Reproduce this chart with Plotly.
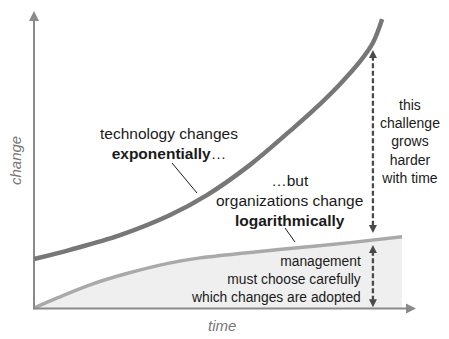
import plotly.graph_objects as go

# ---- data (time, change in arbitrary units) ----
time_tech = [0, 0.98, 2.34, 3.70, 4.70, 5.87, 6.96, 7.58, 8.32, 8.86, 9.21, 9.46]
technology = [1.70, 2.02, 2.53, 3.23, 3.92, 4.97, 6.15, 6.85, 7.78, 8.56, 9.21, 10.03]

time_org = [0, 0.65, 1.58, 2.47, 3.64, 4.51, 5.87, 7.23, 8.59, 10.0]
organizations = [0, 0.36, 0.83, 1.18, 1.55, 1.74, 1.93, 2.10, 2.27, 2.47]

gap_time = 9.21
gap_upper = [8.96, 2.60]   # challenge arrow (top tip, bottom tip)
gap_lower = [2.19, 0.03]   # management arrow (top tip, bottom tip)

labels_tech = "technology changes<br><b>exponentially</b>…"
labels_org = "…but<br>organizations change<br><b>logarithmically</b>"
labels_gap = "this<br>challenge<br>grows<br>harder<br>with time"
labels_mgmt = "management<br>must choose carefully<br>which changes are adopted"
label_x = "time"
label_y = "change"

# ---- layout geometry ----
W, H = 449, 339
X0, SX = 34, 36.8     # px of t=0, px per time unit
Y0, SY = 308, 28.8    # px of change=0, px per change unit


def px_t(p):
    return (p - X0) / SX


def px_c(p):
    return (Y0 - p) / SY


def px(x):
    return x / W


def py(y):
    return 1 - y / H


AXIS = "#8a8a8a"
TEXT = "#1a1a1a"
DASH = "#4a4a4a"

fig = go.Figure()

# filled area under the organizations curve
fig.add_trace(go.Scatter(
    x=time_org, y=organizations, mode="lines",
    line=dict(color="#a9a9a9", width=3.5, shape="spline", smoothing=1),
    fill="tozeroy", fillcolor="#efefef", hoverinfo="skip", showlegend=False))

# axes
fig.add_trace(go.Scatter(
    x=[0, 0], y=[px_c(309.5), px_c(14)], mode="lines",
    line=dict(color=AXIS, width=2), hoverinfo="skip", showlegend=False))
fig.add_trace(go.Scatter(
    x=[0, px_t(412)], y=[px_c(308.5), px_c(308.5)], mode="lines",
    line=dict(color=AXIS, width=2), hoverinfo="skip", showlegend=False))
fig.add_trace(go.Scatter(
    x=[0], y=[px_c(11)], mode="markers",
    marker=dict(symbol="arrow-up", size=10, color=AXIS, line=dict(width=0)),
    hoverinfo="skip", showlegend=False))
fig.add_trace(go.Scatter(
    x=[px_t(416)], y=[px_c(308.5)], mode="markers",
    marker=dict(symbol="arrow-right", size=10, color=AXIS, line=dict(width=0)),
    hoverinfo="skip", showlegend=False))

# technology curve
fig.add_trace(go.Scatter(
    x=time_tech, y=technology, mode="lines",
    line=dict(color="#777777", width=4.5, shape="spline", smoothing=1),
    hoverinfo="skip", showlegend=False))

# dashed double arrows
for seg in (gap_upper, gap_lower):
    fig.add_trace(go.Scatter(
        x=[gap_time, gap_time], y=[seg[0] - 0.2, seg[1] + 0.2], mode="lines",
        line=dict(color=DASH, width=2.3, dash="5px,2.5px"),
        hoverinfo="skip", showlegend=False))
    fig.add_trace(go.Scatter(
        x=[gap_time, gap_time], y=seg, mode="markers",
        marker=dict(symbol=["arrow-up", "arrow-down"], size=8, color=DASH,
                    line=dict(width=0)),
        hoverinfo="skip", showlegend=False))

# leader lines
fig.add_shape(type="line", xref="paper", yref="paper",
              x0=px(172), y0=py(163), x1=px(197), y1=py(193),
              line=dict(color=TEXT, width=1))
fig.add_shape(type="line", xref="paper", yref="paper",
              x0=px(285), y0=py(228), x1=px(295), y1=py(242),
              line=dict(color=TEXT, width=1))

font = dict(family="Liberation Sans, Arial, sans-serif", color=TEXT)


def note(text, x, y, size, xanchor="center", align="center", **kw):
    fig.add_annotation(text=text, x=px(x), y=py(y), xref="paper", yref="paper",
                       showarrow=False, xanchor=xanchor, yanchor="middle",
                       align=align, font=dict(font, size=size), **kw)


note(labels_tech, 168.5, 143, 15.5)
note(labels_org, 289, 200, 15.5)
note(labels_gap, 410, 141, 14)
note(labels_mgmt, 363, 279, 13.8, xanchor="right", align="right")

axis_font = dict(family="Liberation Sans, Arial, sans-serif", color="#777777", size=15)
fig.add_annotation(text="<i>%s</i>" % label_y, x=px(16), y=py(161), xref="paper", yref="paper",
                   showarrow=False, textangle=-90, xanchor="center", yanchor="middle",
                   font=axis_font)
fig.add_annotation(text="<i>%s</i>" % label_x, x=px(222), y=py(325), xref="paper", yref="paper",
                   showarrow=False, xanchor="center", yanchor="middle", font=axis_font)

fig.update_layout(
    width=W, height=H, margin=dict(l=0, r=0, t=0, b=0),
    paper_bgcolor="white", plot_bgcolor="white",
    xaxis=dict(range=[px_t(0), px_t(W)], visible=False, fixedrange=True),
    yaxis=dict(range=[px_c(H), px_c(0)], visible=False, fixedrange=True),
    showlegend=False,
)

fig.write_html("out.html", config={"displayModeBar": False})
